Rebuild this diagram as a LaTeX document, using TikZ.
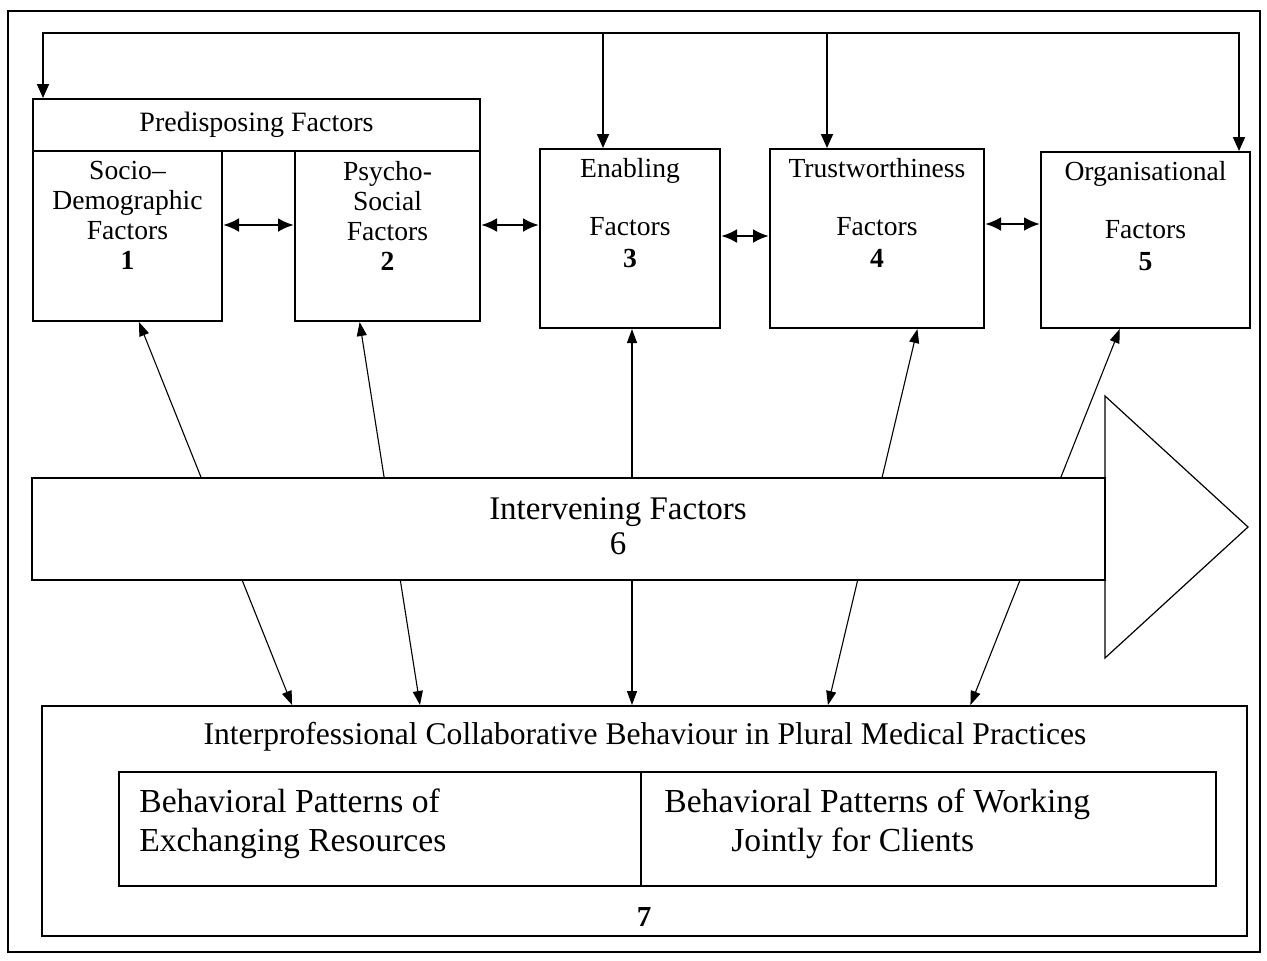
\documentclass[tikz,border=0pt]{standalone}
\usepackage{fontspec}
\setmainfont{Liberation Serif}
\usetikzlibrary{arrows.meta,calc}
\begin{document}
\begin{tikzpicture}[x=0.5pt,y=-0.5pt,
  box/.style={draw,line width=1pt,inner sep=0pt},
  boxtext/.style={anchor=north,align=center,inner sep=0pt,font=\fontsize{13.8}{15}\selectfont},
  feed/.style={line width=0.9pt,-{Triangle[length=7pt,width=6pt]}},
  feedboth/.style={line width=0.9pt,{Triangle[length=7pt,width=6pt]}-{Triangle[length=7pt,width=6pt]}},
  link/.style={line width=0.55pt,{Triangle[length=7pt,width=5pt]}-{Triangle[length=7pt,width=5pt]}},
  pair/.style={line width=1.4pt,{Latex[length=8pt,width=7pt]}-{Latex[length=8pt,width=7pt]}},
]
\fill[white] (0,0) rectangle (1267,960);
\useasboundingbox (0,0) rectangle (1267,960);

% outer frame
\draw[line width=0.9pt] (8,11) rectangle (1260,952);

% predisposing group and factor boxes
\node[box,minimum width=223.5pt,minimum height=26pt,font=\fontsize{14}{16}\selectfont] (pre) at (256.5,125) {Predisposing Factors};
\node[box,minimum width=94.5pt,minimum height=85pt] (b1) at (127.5,236) {};
\node[box,minimum width=92.5pt,minimum height=85pt] (b2) at (387.5,236) {};
\node[box,minimum width=90pt,minimum height=89.5pt] (b3) at (630,238.5) {};
\node[box,minimum width=107pt,minimum height=89.5pt] (b4) at (877,238.5) {};
\node[box,minimum width=104.5pt,minimum height=88pt] (b5) at (1145.5,240) {};

\node[boxtext] (t1) at ([yshift=-5.5pt]b1.north) {Socio–\\Demographic\\Factors\\\textbf{1}};
\node[boxtext] (t2) at ([yshift=-5.5pt]b2.north) {Psycho-\\Social\\Factors\\\textbf{2}};
\node[boxtext] (t3) at ([yshift=-5pt]b3.north) {Enabling\\[14pt]Factors\\[1pt]\textbf{3}};
\node[boxtext] (t4) at ([yshift=-5pt]b4.north) {Trustworthiness\\[14pt]Factors\\[1pt]\textbf{4}};
\node[boxtext] (t5) at ([yshift=-5pt]b5.north) {Organisational\\[14pt]Factors\\[1pt]\textbf{5}};

% links between neighbouring factor boxes
\draw[pair] ([yshift=5.5pt]b1.east) -- ([yshift=5.5pt]b2.west);
\draw[pair] ([yshift=5.5pt]b2.east) -- ([yshift=5.5pt]b2.east -| b3.west);
\draw[pair] ([yshift=1.25pt]b3.east) -- ([yshift=1.25pt]b3.east -| b4.west);
\draw[pair] ([yshift=7.25pt]b4.east) -- ([yshift=7.25pt]b4.east -| b5.west);

% feedback line along the top
\coordinate (fl) at (43,33);
\coordinate (fr) at (1239,33);
\coordinate (f3) at (603,33);
\coordinate (f4) at (827,33);
\draw[feedboth] (fl |- pre.north) -- (fl) -- (fr) -- (fr |- b5.north);
\draw[feed] (f3) -- (f3 |- b3.north);
\draw[feed] (f4) -- (f4 |- b4.north);

% outcome box
\node[box,minimum width=602.5pt,minimum height=115pt] (b7) at (644.5,821) {};
\node[font=\fontsize{15.8}{17}\selectfont,inner sep=0pt] (b7t) at (645,737) {Interprofessional Collaborative Behaviour in Plural Medical Practices};
\node[box,line width=0.8pt,minimum width=261pt,minimum height=57pt] (c1) at (380,829) {};
\node[box,line width=0.8pt,minimum width=287.5pt,minimum height=57pt] (c2) at (928.5,829) {};
\node[anchor=west,align=left,inner sep=0pt,font=\fontsize{16.8}{19.5}\selectfont] (c1t) at (139,824) {Behavioral Patterns of\\Exchanging Resources};
\node[anchor=west,align=left,inner sep=0pt,font=\fontsize{16.8}{19.5}\selectfont] (c2t) at (664,824) {Behavioral Patterns of Working\\\hspace*{33.5pt}Jointly for Clients};
\node[font=\bfseries\fontsize{14.5}{16}\selectfont,inner sep=0pt] (n7) at (644,917) {7};

% connectors from every factor box to the outcome box
\draw[link] ($(b1.south west)!0.56!(b1.south east)$) -- ($(b7.north west)!0.208!(b7.north east)$);
\draw[link] ($(b2.south west)!0.351!(b2.south east)$) -- ($(b7.north west)!0.314!(b7.north east)$);
\coordinate (p3) at ($(b3.south west)!0.511!(b3.south east)$);
\draw[link] (p3) -- (p3 |- b7.north);
\draw[link] ($(b4.south west)!0.687!(b4.south east)$) -- ($(b7.north west)!0.652!(b7.north east)$);
\draw[link] ($(b5.south west)!0.378!(b5.south east)$) -- ($(b7.north west)!0.770!(b7.north east)$);

% intervening factors arrow, laid over the connectors
\draw[line width=0.6pt,fill=white] (1105,396) -- (1248,527) -- (1105,658) -- cycle;
\node[box,line width=1.2pt,fill=white,minimum width=536.5pt,minimum height=51pt] (iv) at (568.5,529) {};
\node[align=center,inner sep=0pt,font=\fontsize{16.5}{17.5}\selectfont] (ivt) at (618,526) {Intervening Factors\\6};
\end{tikzpicture}
\end{document}
